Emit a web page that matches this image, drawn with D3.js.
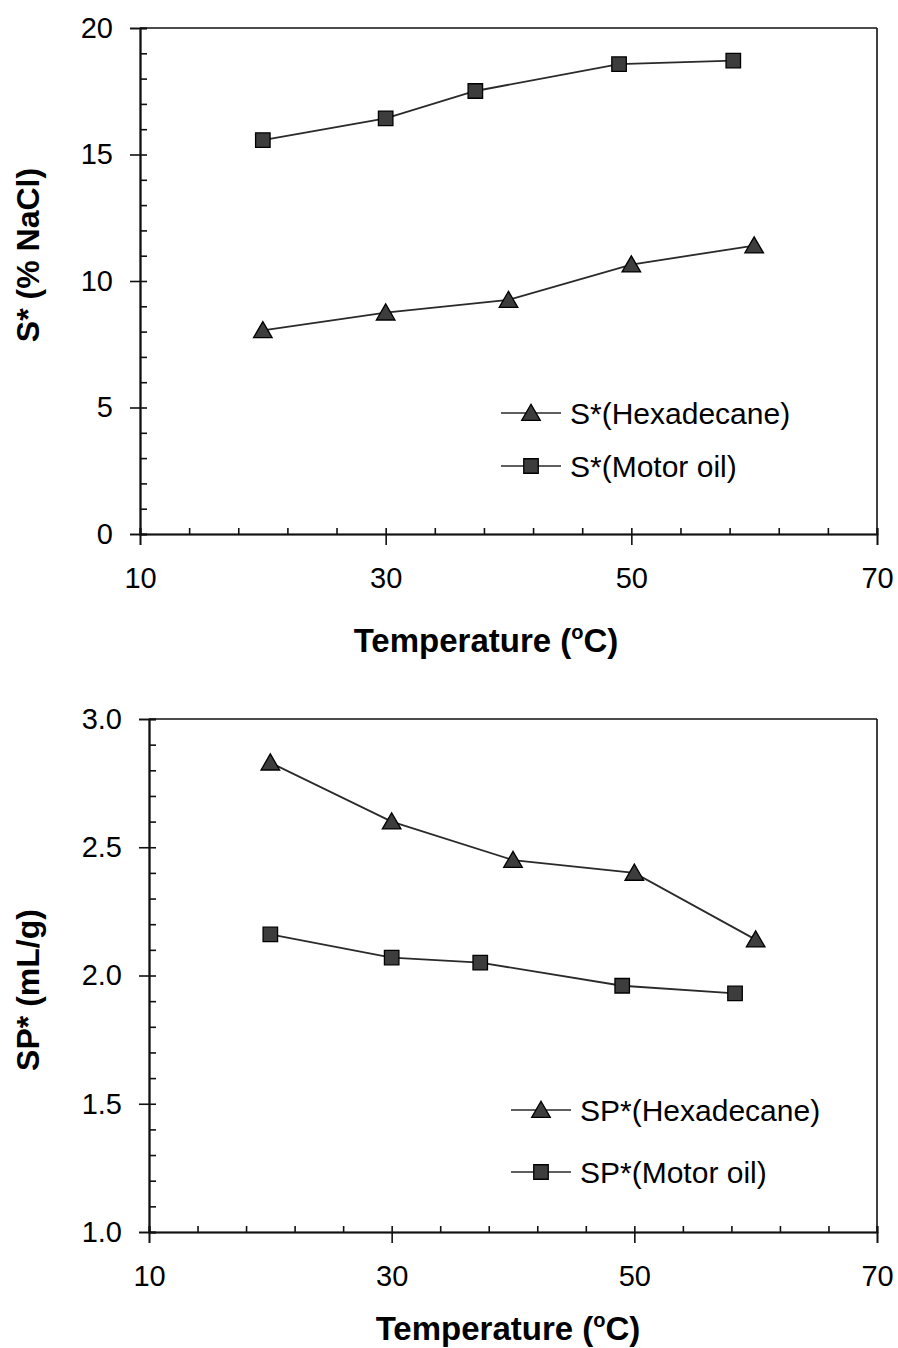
<!DOCTYPE html>
<html>
<head>
<meta charset="utf-8">
<script src="https://cdn.jsdelivr.net/npm/d3@7"></script>
<style>
  html, body { margin: 0; padding: 0; background: #fff; }
  svg { display: block; }
  text { font-family: "Liberation Sans", Arial, sans-serif; fill: #000; }
</style>
</head>
<body>
<svg id="chart" width="898" height="1348"></svg>
<script>
// ---------- data ----------
const tempHexadecane = [20, 30, 40, 50, 60];
const tempMotorOil   = [20, 30, 37.3, 49, 58.3];

const sHexadecane  = [8.05, 8.75, 9.25, 10.65, 11.4];
const sMotorOil    = [15.57, 16.43, 17.51, 18.57, 18.71];

const spHexadecane = [2.83, 2.60, 2.45, 2.40, 2.14];
const spMotorOil   = [2.16, 2.07, 2.05, 1.96, 1.93];

const xTickLabels = [10, 30, 50, 70];
const sTickLabels = [0, 5, 10, 15, 20];
const spTickLabels = [1.0, 1.5, 2.0, 2.5, 3.0];

const legendTop = ["S*(Hexadecane)", "S*(Motor oil)"];
const legendBottom = ["SP*(Hexadecane)", "SP*(Motor oil)"];

// ---------- drawing ----------
const svg = d3.select("#chart");

function panel(cfg) {
  const g = svg.append("g");
  const x = d3.scaleLinear().domain([10, 70]).range([cfg.left, cfg.right]);
  const y = d3.scaleLinear().domain(cfg.ydomain).range([cfg.bottom, cfg.top]);

  // frame (top & right)
  g.append("line").attr("x1", cfg.left).attr("x2", cfg.right).attr("y1", cfg.top).attr("y2", cfg.top)
    .attr("stroke", "#111").attr("stroke-width", 1.6);
  g.append("line").attr("x1", cfg.right).attr("x2", cfg.right).attr("y1", cfg.top).attr("y2", cfg.bottom)
    .attr("stroke", "#111").attr("stroke-width", 1.6);

  // y axis: outer major ticks with labels
  const yOuter = g.append("g").attr("transform", `translate(${cfg.left},0)`)
    .call(d3.axisLeft(y).tickValues(cfg.yTicks).tickSize(10).tickPadding(17).tickFormat(cfg.yFmt));
  // inner major ticks
  g.append("g").attr("transform", `translate(${cfg.left},0)`)
    .call(d3.axisRight(y).tickValues(cfg.yTicks).tickSize(7).tickFormat(""));
  // inner minor ticks
  g.append("g").attr("transform", `translate(${cfg.left},0)`)
    .call(d3.axisRight(y).tickValues(cfg.yMinor).tickSize(7).tickFormat(""));

  // x axis: outer (down) major ticks with labels
  g.append("g").attr("transform", `translate(0,${cfg.bottom})`)
    .call(d3.axisBottom(x).tickValues(xTickLabels).tickSize(11).tickPadding(cfg.xPad).tickFormat(d3.format("d")));
  g.append("g").attr("transform", `translate(0,${cfg.bottom})`)
    .call(d3.axisTop(x).tickValues(xTickLabels).tickSize(6).tickFormat(""));
  g.append("g").attr("transform", `translate(0,${cfg.bottom})`)
    .call(d3.axisTop(x).tickValues(d3.range(14, 70, 4).filter(v => (v - 10) % 20 !== 0)).tickSize(6).tickFormat(""));

  g.selectAll(".domain").attr("stroke", "#111").attr("stroke-width", 1.6);
  g.selectAll(".tick line").attr("stroke", "#111").attr("stroke-width", 1.6);
  g.selectAll(".tick text").style("font-size", "29px").style("font-family", '"Liberation Sans", Arial, sans-serif').attr("fill", "#000");

  // axis titles
  const xt = g.append("text").attr("x", cfg.xTitleX).attr("y", cfg.xTitleY).attr("text-anchor", "middle")
    .style("font-size", "33px").style("font-weight", "bold");
  xt.append("tspan").text("Temperature (");
  xt.append("tspan").text("o").style("font-size", "20px").attr("dy", -13);
  xt.append("tspan").text("C)").attr("dy", 13);

  g.append("text").attr("transform", `translate(${cfg.yTitleX},${cfg.yTitleY}) rotate(-90)`)
    .attr("text-anchor", "middle").attr("dominant-baseline", "central")
    .style("font-size", "32px").style("font-weight", "bold").text(cfg.yTitle);

  // series
  const line = d3.line().x(d => x(d[0])).y(d => y(d[1]));
  const tri = d3.symbol().type(d3.symbolTriangle).size(150);
  const sq = d3.symbol().type(d3.symbolSquare).size(210);

  const series = [
    { xs: tempHexadecane, ys: cfg.hex, sym: tri, dy: 2 },
    { xs: tempMotorOil, ys: cfg.oil, sym: sq, dy: 0 }
  ];
  series.forEach(s => {
    const pts = s.xs.map((t, i) => [t, s.ys[i]]);
    g.append("path").attr("d", line(pts)).attr("fill", "none").attr("stroke", "#2a2a2a").attr("stroke-width", 1.8);
    g.selectAll(null).data(pts).enter().append("path")
      .attr("d", s.sym)
      .attr("transform", d => `translate(${x(d[0])},${y(d[1]) + s.dy})`)
      .attr("fill", "#3d3d3d").attr("stroke", "#000").attr("stroke-width", 1.3);
  });

  // legend
  const syms = [tri, sq];
  cfg.legend.forEach((name, i) => {
    const ly = cfg.legY[i];
    g.append("line").attr("x1", cfg.legX0).attr("x2", cfg.legX0 + 60).attr("y1", ly).attr("y2", ly)
      .attr("stroke", "#2a2a2a").attr("stroke-width", 1.6);
    g.append("path").attr("d", syms[i]).attr("transform", `translate(${cfg.legX0 + 30},${ly + (i === 0 ? 2 : 0)})`)
      .attr("fill", "#3d3d3d").attr("stroke", "#000").attr("stroke-width", 1.3);
    g.append("text").attr("x", cfg.legX0 + 69).attr("y", ly).attr("dominant-baseline", "central")
      .style("font-size", "30px").text(name);
  });
}

panel({
  left: 140, right: 877, top: 28, bottom: 534,
  ydomain: [0, 20], yTicks: sTickLabels, yMinor: d3.range(1, 20, 1).filter(v => v % 5 !== 0),
  yFmt: d3.format("d"), xPad: 22,
  xTitleX: 486, xTitleY: 652, yTitleX: 28, yTitleY: 255, yTitle: "S* (% NaCl)",
  hex: sHexadecane, oil: sMotorOil,
  legend: legendTop, legX0: 501, legY: [413, 466]
});

panel({
  left: 149, right: 877, top: 719, bottom: 1232,
  ydomain: [1, 3], yTicks: spTickLabels, yMinor: d3.range(11, 30, 1).filter(v => v % 5 !== 0).map(v => v / 10),
  yFmt: d3.format(".1f"), xPad: 22,
  xTitleX: 508, xTitleY: 1340, yTitleX: 28, yTitleY: 990, yTitle: "SP* (mL/g)",
  hex: spHexadecane, oil: spMotorOil,
  legend: legendBottom, legX0: 511, legY: [1110, 1172]
});
</script>
</body>
</html>
